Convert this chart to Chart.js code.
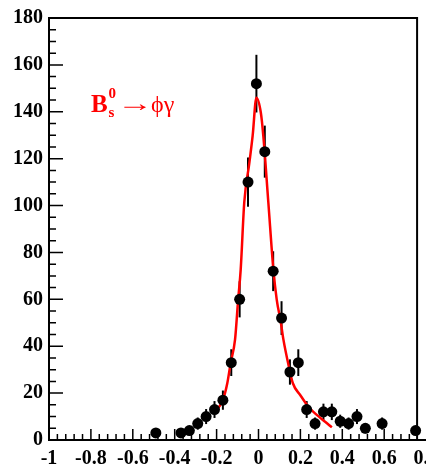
<!DOCTYPE html>
<html>
<head>
<meta charset="utf-8">
<script src="https://cdn.jsdelivr.net/npm/chart.js@4.4.1/dist/chart.umd.min.js"></script>
<style>
  html, body { margin: 0; padding: 0; background: #fff; overflow: hidden; }
  #wrap { position: relative; width: 480px; height: 466px; }
</style>
</head>
<body>
<div id="wrap"><canvas id="chart"></canvas></div>
<script>
// measured points (bin centre, entries, error)
const binCenters = [-0.49, -0.37, -0.33, -0.29, -0.25, -0.21, -0.17, -0.13, -0.09, -0.05, -0.01, 0.03, 0.07,
  0.11, 0.15, 0.19, 0.23, 0.27, 0.31, 0.35, 0.39, 0.43, 0.47, 0.51, 0.59, 0.75];
const counts = [3, 3, 4, 7, 10, 13, 17, 33, 60, 110, 152, 123, 72, 52, 29, 33, 13, 7, 12, 12, 8, 7, 10, 5, 7, 4];
const errors = [1.7, 1.7, 2.0, 2.6, 3.2, 3.6, 4.1, 5.7, 7.7, 10.5, 12.3, 11.1, 8.5, 7.2, 5.4, 5.7, 3.6, 2.6,
  3.5, 3.5, 2.8, 2.6, 3.2, 2.2, 2.6, 2.0];

// fitted curve
const fitX = [-0.21, -0.17, -0.149, -0.133, -0.112, -0.097, -0.085, -0.068, -0.044, -0.028, -0.010, 0.011,
  0.023, 0.047, 0.071, 0.087, 0.106, 0.119, 0.143, 0.164, 0.199, 0.238, 0.278, 0.318, 0.35];
const fitY = [11.5, 17.1, 24.2, 32.8, 42.8, 60, 72.7, 101.3, 118, 129.7, 146, 139.7, 129.7, 101.3, 72.7, 59.9,
  50.5, 42.8, 32.1, 24.2, 19.2, 14.2, 10.7, 7.8, 5.4];

const frameEdge = 0.757;   // the picture is cut here
const serif = '"Liberation Serif", "Times New Roman", serif';

const errorBars = {
  id: 'errorBars',
  beforeDatasetsDraw(chart) {
    const { ctx, scales: { x, y } } = chart;
    ctx.save();
    ctx.strokeStyle = '#000';
    ctx.lineWidth = 2;
    binCenters.forEach((c, i) => {
      const px = x.getPixelForValue(c);
      ctx.beginPath();
      ctx.moveTo(px, y.getPixelForValue(counts[i] - errors[i]));
      ctx.lineTo(px, y.getPixelForValue(counts[i] + errors[i]));
      ctx.stroke();
    });
    ctx.restore();
  }
};

const frameTicks = {
  id: 'frameTicks',
  beforeDatasetsDraw(chart) {
    const { ctx, chartArea: a, scales: { x, y } } = chart;
    const edge = x.getPixelForValue(frameEdge);
    ctx.save();
    ctx.strokeStyle = '#000';
    ctx.lineWidth = 2;
    ctx.beginPath();
    ctx.moveTo(a.left, a.top);
    ctx.lineTo(edge, a.top);
    ctx.lineTo(edge, a.bottom);
    ctx.stroke();

    ctx.lineWidth = 1.5;
    ctx.beginPath();
    for (let i = 0; i <= 50; i++) {
      const px = x.getPixelForValue(-1 + i * 0.04);
      if (px > edge) break;
      const len = i % 5 === 0 ? 11 : 6;
      ctx.moveTo(px, a.bottom);
      ctx.lineTo(px, a.bottom - len);
    }
    for (let i = 0; i <= 36; i++) {
      const py = y.getPixelForValue(i * 5);
      const len = i % 4 === 0 ? 14 : 7;
      ctx.moveTo(a.left, py);
      ctx.lineTo(a.left + len, py);
    }
    ctx.stroke();
    ctx.restore();
  }
};

const decayLabel = {
  id: 'decayLabel',
  afterDraw(chart) {
    const { ctx, scales: { x, y } } = chart;
    let px = x.getPixelForValue(-0.8);
    const base = y.getPixelForValue(140);
    ctx.save();
    ctx.fillStyle = '#ff0000';
    ctx.textBaseline = 'alphabetic';
    ctx.font = 'bold 25px ' + serif;
    ctx.fillText('B', px, base);
    px += ctx.measureText('B').width + 1;
    ctx.font = 'bold 15px ' + serif;
    ctx.fillText('0', px, base - 14);
    ctx.fillText('s', px, base + 5);
    px += ctx.measureText('0').width + 1;
    // thin, long arrow: stretch the serif glyph sideways
    ctx.font = '24px ' + serif;
    const aw = ctx.measureText('\u2192').width;
    ctx.save();
    ctx.translate(px, base - 1);
    ctx.scale(1.5, 1);
    ctx.fillText('\u2192', 0, 0);
    ctx.restore();
    px += aw * 1.5 - 2;
    ctx.font = '24px ' + serif;
    ctx.fillText('\u03d5\u03b3', px, base);
    ctx.restore();
  }
};

new Chart(document.getElementById('chart'), {
  type: 'scatter',
  data: {
    datasets: [
      {
        label: 'data',
        data: binCenters.map((c, i) => ({ x: c, y: counts[i] })),
        backgroundColor: '#000',
        borderWidth: 0,
        pointRadius: 5.5,
        order: 1
      },
      {
        label: 'fit',
        data: fitX.map((v, i) => ({ x: v, y: fitY[i] })),
        showLine: true,
        borderColor: '#ff0000',
        borderWidth: 2.5,
        pointRadius: 0,
        cubicInterpolationMode: 'monotone',
        order: 2
      }
    ]
  },
  options: {
    responsive: true,
    maintainAspectRatio: false,
    animation: false,
    layout: { padding: { top: 18, right: 12, left: 0, bottom: 0 } },
    plugins: { legend: { display: false }, tooltip: { enabled: false } },
    scales: {
      x: {
        type: 'linear',
        min: -1,
        max: 1,
        afterFit: (s) => { s.height = 26; },
        grid: { drawOnChartArea: false, drawTicks: false },
        border: { display: true, color: '#000', width: 2 },
        ticks: {
          stepSize: 0.2,
          autoSkip: false,
          maxRotation: 0,
          padding: 7,
          color: '#000',
          font: { family: serif, size: 20, weight: 'bold' },
          callback: (v) => String(+v.toFixed(1))
        }
      },
      y: {
        min: 0,
        max: 180,
        afterFit: (s) => { s.width = 49; },
        grid: { drawOnChartArea: false, drawTicks: false },
        border: { display: true, color: '#000', width: 2 },
        ticks: {
          stepSize: 20,
          padding: 6,
          color: '#000',
          font: { family: serif, size: 20, weight: 'bold' }
        }
      }
    }
  },
  plugins: [frameTicks, errorBars, decayLabel]
});
</script>
</body>
</html>
